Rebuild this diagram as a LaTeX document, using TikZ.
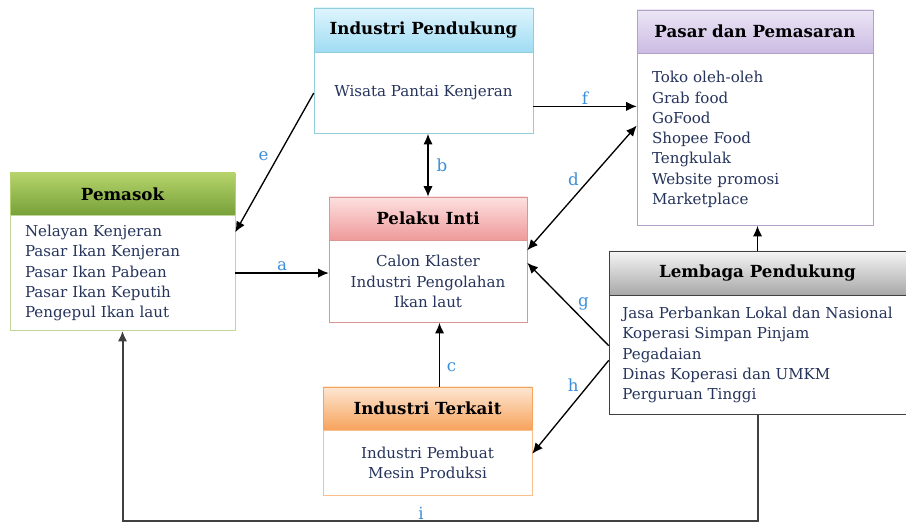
\documentclass[tikz,border=0pt]{standalone}
\usepackage{fontspec}
\setmainfont{DejaVu Serif}
\usetikzlibrary{arrows.meta,positioning}
\definecolor{cffffff}{RGB}{255,255,255}
\definecolor{c1f3864}{RGB}{38,52,92}
\definecolor{c3b8fd8}{RGB}{59,143,216}
\definecolor{cc2d69b}{RGB}{194,214,155}
\definecolor{cb5d36a}{RGB}{181,211,106}
\definecolor{c77a13a}{RGB}{119,161,58}
\definecolor{c92cddc}{RGB}{146,205,220}
\definecolor{cdff5fd}{RGB}{223,245,253}
\definecolor{c9fdcf3}{RGB}{159,220,243}
\definecolor{cb2a1c7}{RGB}{178,161,199}
\definecolor{cece6f6}{RGB}{236,230,246}
\definecolor{ccbbbe3}{RGB}{203,187,227}
\definecolor{cd99694}{RGB}{217,150,148}
\definecolor{cfde0e0}{RGB}{253,224,224}
\definecolor{cef9a9a}{RGB}{239,154,154}
\definecolor{cfabf8f}{RGB}{250,191,143}
\definecolor{cfde6d2}{RGB}{253,230,210}
\definecolor{cf7a35c}{RGB}{247,163,92}
\definecolor{cf5f5f5}{RGB}{245,245,245}
\definecolor{ca8a8a8}{RGB}{168,168,168}
\definecolor{c404040}{RGB}{64,64,64}
\tikzset{
  kepala/.style={draw, inner sep=0pt, font=\fontsize{12.5}{15}\selectfont\bfseries},
  isi/.style={draw, fill=cffffff, inner sep=0pt, text=c1f3864,
    font=\fontsize{11.3}{15.2}\selectfont},
  isikiri/.style={isi, align=left, inner xsep=11.25pt},
  isitengah/.style={isi, align=center},
  panah/.style={draw=black, line width=1pt, >={Latex[length=8pt,width=7pt]}},
  huruf/.style={text=c3b8fd8, font=\fontsize{12.5}{14}\selectfont, inner sep=1pt}
}
\begin{document}
\begin{tikzpicture}[y=0.75pt, x=0.75pt, yscale=-1]
  \useasboundingbox (0,0) rectangle (906,523);
  % pemasok
  \node[kepala, draw=cb5d36a, top color=cb5d36a, bottom color=c77a13a,
    minimum width=168.75pt, minimum height=31.5pt] (pemasok) at (122.5,194) {Pemasok};
  \node[isikiri, draw=cc2d69b, text width=146.25pt, minimum height=86.25pt,
    below=0pt of pemasok] (pemasok-isi)
    {Nelayan Kenjeran\\Pasar Ikan Kenjeran\\Pasar Ikan Pabean\\Pasar Ikan Keputih\\Pengepul Ikan laut};
  % industri pendukung
  \node[kepala, draw=c92cddc, top color=cdff5fd, bottom color=c9fdcf3,
    minimum width=164.25pt, minimum height=33pt] (pendukung) at (423.5,30) {Industri Pendukung};
  \node[isitengah, draw=c92cddc, minimum width=164.25pt, minimum height=60.75pt,
    below=0pt of pendukung] (pendukung-isi) {Wisata Pantai Kenjeran};
  % pasar dan pemasaran
  \node[kepala, draw=cb2a1c7, top color=cece6f6, bottom color=ccbbbe3,
    minimum width=177pt, minimum height=32.25pt] (pasar) at (755,31.5) {Pasar dan Pemasaran};
  \node[isikiri, draw=cb2a1c7, text width=154.5pt, minimum height=129pt,
    below=0pt of pasar] (pasar-isi)
    {Toko oleh-oleh\\Grab food\\GoFood\\Shopee Food\\Tengkulak\\Website promosi\\Marketplace};
  % pelaku inti
  \node[kepala, draw=cd99694, top color=cfde0e0, bottom color=cef9a9a,
    minimum width=148.5pt, minimum height=32.25pt] (pelaku) at (428,218.5) {Pelaku Inti};
  \node[isitengah, draw=cd99694, minimum width=148.5pt, minimum height=61.5pt,
    below=0pt of pelaku] (pelaku-isi) {Calon Klaster\\Industri Pengolahan\\Ikan laut};
  % lembaga pendukung
  \node[kepala, draw=c404040, top color=cf5f5f5, bottom color=ca8a8a8,
    minimum width=222.75pt, minimum height=33pt] (lembaga) at (757.5,273) {Lembaga Pendukung};
  \node[isi, align=left, draw=c404040, inner xsep=2pt, minimum width=222.75pt, minimum height=89.25pt,
    below=0pt of lembaga] (lembaga-isi)
    {Jasa Perbankan Lokal dan Nasional\\Koperasi Simpan Pinjam\\Pegadaian\\Dinas Koperasi dan UMKM\\Perguruan Tinggi};
  % industri terkait
  \node[kepala, draw=cf7a35c, top color=cfde6d2, bottom color=cf7a35c,
    minimum width=156.75pt, minimum height=32.25pt] (terkait) at (427.5,408.5) {Industri Terkait};
  \node[isitengah, draw=cfabf8f, minimum width=156.75pt, minimum height=48.75pt,
    below=0pt of terkait] (terkait-isi) {Industri Pembuat\\Mesin Produksi};

  % hubungan (yshift runs downwards here, because of yscale=-1)
  \path[panah, ->] (pemasok-isi.east) -- (pemasok-isi.east -| pelaku-isi.west)
    node[midway, above, huruf] {a};
  \path[panah, <->] (pelaku.north |- pendukung-isi.south) -- (pelaku.north)
    node[midway, right=5pt, huruf] {b};
  \path[panah, ->] ([xshift=9pt]terkait.north) -- ([xshift=9pt]terkait.north |- pelaku-isi.south)
    node[pos=0.3, right=4pt, huruf] {c};
  \path[panah, <->] ([yshift=7.5pt]pelaku-isi.north east) -- ([yshift=-10.5pt]pasar-isi.west)
    node[midway, above left=0pt and 1pt, huruf] {d};
  \path[panah, ->] (pendukung-isi.west) -- ([yshift=12.75pt]pemasok-isi.north east)
    node[pos=0.45, left=6pt, huruf] {e};
  \path[panah, ->] ([yshift=10pt]pendukung-isi.east) -- ([yshift=10pt]pendukung-isi.east -| pasar-isi.west)
    node[midway, above, huruf] {f};
  \path[panah, ->] ([yshift=-7pt]lembaga-isi.west) -- ([yshift=-14pt]pelaku-isi.east)
    node[pos=0.4, above right=0pt and 0pt, huruf] {g};
  \path[panah, ->] ([yshift=4pt]lembaga-isi.west) -- ([yshift=-7pt]terkait-isi.east)
    node[pos=0.35, above left=0pt and 1pt, huruf] {h};
  \path[panah, ->] (lembaga.north) -- (lembaga.north |- pasar-isi.south);
  \coordinate (bawah) at ([yshift=80pt]lembaga-isi.south);
  \path[panah, ->, draw=c404040, line width=1.5pt] (lembaga-isi.south) -- (bawah)
    -| (pemasok-isi.south)
    node[pos=0.265, above, huruf] {i};
\end{tikzpicture}
\end{document}
